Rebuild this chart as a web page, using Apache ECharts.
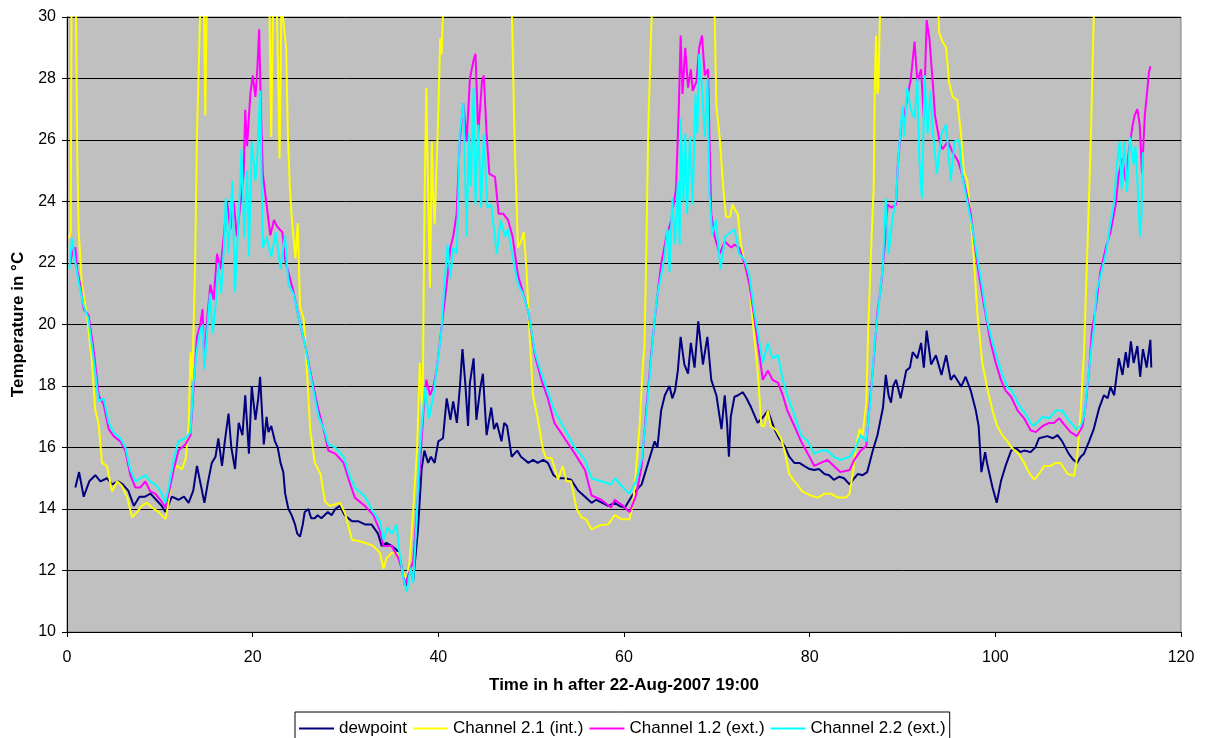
<!DOCTYPE html>
<html lang="en">
<head>
    <meta charset="UTF-8">
    <title>Temperature and dewpoint</title>
    <script src="https://cdn.jsdelivr.net/npm/echarts@6/dist/echarts.min.js"></script>
    <style>
        html, body { margin: 0; padding: 0; background: #fff; }
        #chart-container { width: 1207px; height: 738px; }
    </style>
</head>
<body>
    <div id="chart-container"></div>

    <script>
        // series names, in legend order
        const seriesNames = ['dewpoint', 'Channel 2.1 (int.)', 'Channel 1.2 (ext.)', 'Channel 2.2 (ext.)'];

        // [hours after start, °C]
        const dewpoint = [
            [0.9,14.7],[1.3,15.2],[1.8,14.4],[2.4,14.9],[3.05,15.1],[3.6,14.9],[4.3,15.0],[4.85,14.8],[5.5,14.9],[6.0,14.8],
            [6.6,14.6],[7.2,14.1],[7.8,14.4],[8.4,14.4],[9.0,14.5],[9.6,14.3],[10.2,14.1],[10.6,13.9],[11.3,14.4],[12.0,14.3],
            [12.6,14.4],[13.1,14.2],[13.6,14.6],[14.0,15.4],[14.4,14.8],[14.8,14.2],[15.2,14.9],[15.6,15.5],[16.0,15.7],[16.3,16.3],
            [16.7,15.4],[17.0,16.2],[17.4,17.1],[17.7,16.0],[18.1,15.3],[18.5,16.8],[18.9,16.4],[19.2,17.7],[19.6,15.8],[19.9,18.0],
            [20.3,16.9],[20.6,17.6],[20.8,18.3],[21.2,16.1],[21.5,17.0],[21.7,16.5],[22.0,16.7],[22.4,16.2],[22.7,16.0],[23.0,15.5],
            [23.3,15.2],[23.5,14.5],[23.85,14.0],[24.2,13.8],[24.56,13.5],[24.8,13.2],[25.1,13.1],[25.4,13.5],[25.6,13.9],[26.0,14.0],
            [26.3,13.7],[26.7,13.7],[27.0,13.8],[27.4,13.7],[28.1,13.9],[28.5,13.8],[28.9,14.0],[29.4,14.1],[29.9,13.8],[30.3,13.7],
            [30.7,13.6],[31.4,13.6],[32.1,13.5],[32.8,13.5],[33.5,13.2],[33.9,12.8],[34.4,12.9],[34.97,12.8],[35.4,12.7],[35.7,12.6],
            [36.2,11.9],[36.6,11.5],[36.9,12.1],[37.3,11.7],[37.8,13.3],[38.2,15.3],[38.5,15.9],[38.9,15.5],[39.2,15.7],[39.6,15.5],
            [40.0,16.2],[40.5,16.3],[40.9,17.6],[41.3,16.9],[41.6,17.5],[42.0,16.8],[42.33,18.0],[42.6,19.2],[42.9,18.1],[43.2,16.7],
            [43.4,18.1],[43.8,18.9],[44.1,16.9],[44.5,17.9],[44.8,18.4],[45.2,16.4],[45.7,17.3],[46.0,16.6],[46.3,16.8],[46.8,16.2],
            [47.1,16.8],[47.4,16.7],[47.9,15.7],[48.2,15.8],[48.5,15.9],[48.9,15.7],[49.3,15.6],[49.7,15.5],[50.2,15.6],[50.7,15.5],
            [51.3,15.6],[51.8,15.5],[52.4,15.1],[52.9,15.0],[53.6,15.0],[54.3,14.95],[55.05,14.6],[55.8,14.4],[56.5,14.2],[57.0,14.3],
            [57.4,14.24],[58.3,14.1],[59.0,14.2],[59.5,14.1],[60.1,14.05],[60.8,14.4],[61.3,14.6],[61.9,14.8],[62.6,15.5],[63.3,16.2],
            [63.6,16.0],[64.0,17.2],[64.4,17.7],[64.9,18.0],[65.2,17.6],[65.5,17.85],[65.8,18.5],[66.1,19.6],[66.5,18.7],[66.9,18.4],
            [67.2,19.4],[67.6,18.6],[68.0,20.1],[68.5,18.7],[68.98,19.6],[69.4,18.2],[69.95,17.7],[70.5,16.6],[70.85,17.7],[71.1,16.8],
            [71.3,15.7],[71.5,17.0],[71.9,17.65],[72.3,17.7],[72.8,17.8],[73.2,17.6],[73.7,17.3],[74.4,16.8],[75.0,17.0],[75.5,17.2],
            [76.2,16.6],[76.7,16.3],[77.3,16.05],[77.8,15.7],[78.35,15.5],[78.9,15.5],[79.4,15.4],[80.0,15.3],[80.5,15.27],[81.0,15.3],
            [81.6,15.14],[82.1,15.1],[82.6,14.95],[83.2,15.05],[83.7,15.0],[84.3,14.8],[84.8,15.0],[85.2,15.14],[85.7,15.1],[86.2,15.2],
            [86.8,15.9],[87.3,16.4],[87.9,17.3],[88.2,18.36],[88.5,17.7],[88.76,17.46],[89.0,18.0],[89.3,18.2],[89.8,17.6],[90.4,18.5],
            [90.8,18.6],[91.1,19.1],[91.6,18.9],[92.0,19.4],[92.3,18.6],[92.6,19.8],[93.08,18.7],[93.6,19.0],[94.2,18.36],[94.7,19.0],
            [95.2,18.2],[95.55,18.36],[96.1,18.1],[96.3,17.97],[96.8,18.3],[97.35,17.85],[97.9,17.2],[98.2,16.7],[98.5,15.2],[98.9,15.85],
            [99.1,15.5],[99.7,14.7],[100.15,14.2],[100.6,14.9],[101.1,15.4],[101.7,15.9],[102.2,15.98],[102.7,15.85],[103.1,15.9],[103.8,15.85],
            [104.3,16.0],[104.7,16.3],[105.6,16.37],[106.2,16.3],[106.7,16.4],[107.2,16.2],[107.9,15.8],[108.4,15.6],[108.8,15.5],[109.2,15.7],
            [109.55,15.8],[110.1,16.2],[110.6,16.6],[111.2,17.3],[111.7,17.7],[112.1,17.6],[112.4,17.97],[112.8,17.7],[113.3,18.9],[113.7,18.36],
            [114.05,19.1],[114.3,18.6],[114.6,19.45],[114.9,18.75],[115.3,19.3],[115.6,18.3],[115.9,19.2],[116.3,18.6],[116.7,19.5],[116.8,18.6]
        ];

        // indoor sensor, runs off the top of the scale during the day
        const channel21 = [
            [0.2,22.8],[0.4,23.0],[0.5,31],[0.6,35],[0.85,35],[0.95,31],[1.1,25.6],[1.25,23.1],[1.4,23.05],[1.6,21.3],
            [2.15,20.3],[2.69,18.75],[3.05,17.2],[3.4,16.8],[3.77,15.5],[4.3,15.4],[4.85,14.57],[5.4,14.9],[5.9,14.76],[6.5,14.37],
            [7.0,13.73],[7.54,13.9],[8.08,14.1],[8.6,14.2],[9.15,14.05],[9.87,13.9],[10.6,13.67],[10.88,14.1],[11.3,15.14],[11.85,15.4],
            [12.4,15.3],[12.8,15.66],[13.1,16.7],[13.3,19.1],[13.5,18.2],[13.8,21.96],[14.0,26.2],[14.2,28.4],[14.4,31],[14.6,32],
            [14.75,30.5],[14.9,26.8],[15.05,30.5],[15.3,34],[18,36],[21.6,34],[21.8,30.5],[22.0,26.1],[22.2,30.5],[22.4,32],
            [22.6,30.5],[22.9,25.4],[23.1,30.5],[23.3,29.9],[23.6,29.0],[23.8,26.1],[24.0,24.5],[24.2,23.5],[24.6,22.16],[24.85,23.3],
            [25.1,20.6],[25.5,20.16],[25.8,18.75],[26.2,16.56],[26.7,15.5],[27.3,15.14],[27.8,14.24],[28.3,14.1],[29.4,14.2],[29.95,13.86],
            [30.7,13.0],[31.4,12.96],[32.1,12.9],[33.0,12.8],[33.7,12.57],[34.1,12.06],[34.4,12.4],[34.97,12.57],[35.7,12.57],[36.05,12.06],
            [36.6,11.67],[36.9,12.3],[37.3,13.99],[37.7,15.9],[38.0,18.75],[38.3,17.0],[38.5,23.6],[38.7,27.7],[38.9,24.4],[39.1,21.2],
            [39.3,25.95],[39.45,24.1],[39.6,23.25],[39.99,26.8],[40.2,29.3],[40.35,28.8],[40.6,31],[41,35],[44,37],[47.7,33],
            [47.9,30.5],[48.2,26.2],[48.58,22.5],[48.9,22.7],[49.2,23.0],[49.5,21.8],[49.8,19.8],[50.2,17.7],[50.7,16.95],[51.3,15.9],
            [51.6,15.66],[52.2,15.66],[52.9,14.95],[53.4,15.4],[53.8,14.9],[54.3,14.9],[54.9,14.0],[55.4,13.73],[55.9,13.67],[56.5,13.34],
            [57.4,13.47],[58.3,13.5],[59.0,13.8],[59.7,13.67],[60.6,13.67],[61.0,14.24],[61.3,15.27],[61.7,16.8],[62.05,18.75],[62.2,19.26],
            [62.4,22.3],[62.6,26.2],[62.9,29.3],[63.1,31],[63.5,34],[66,37],[69.5,33],[69.75,30.3],[69.95,27.1],[70.3,26.1],
            [70.7,24.4],[71.0,23.5],[71.4,23.5],[71.7,23.9],[72.0,23.7],[72.25,23.6],[72.6,22.6],[73.1,21.8],[73.5,21.3],[73.9,20.0],
            [74.4,18.5],[74.8,16.7],[75.1,16.7],[75.5,17.2],[75.8,16.7],[76.4,16.56],[76.9,16.3],[77.3,15.9],[77.8,15.14],[78.35,14.9],
            [78.9,14.7],[79.2,14.57],[80.1,14.44],[80.9,14.37],[81.6,14.5],[82.3,14.5],[83.0,14.37],[83.9,14.37],[84.3,14.5],[84.7,15.27],
            [85.0,16.05],[85.4,16.6],[85.7,16.4],[86.1,17.46],[86.3,19.8],[86.6,22.3],[86.9,24.5],[87.0,27.5],[87.15,29.4],[87.3,27.5],
            [87.4,27.7],[87.6,30.5],[87.8,33],[90,37],[93.6,33],[93.8,30.5],[93.95,29.5],[94.3,29.2],[94.7,29.0],[95.0,27.9],
            [95.4,27.4],[95.9,27.3],[96.3,26.2],[96.6,25.0],[96.99,24.66],[97.35,23.4],[97.7,22.1],[98.05,20.4],[98.6,18.75],[99.1,17.97],
            [99.7,17.2],[100.2,16.7],[100.75,16.4],[101.3,16.2],[101.8,15.98],[102.5,15.8],[103.1,15.5],[103.6,15.2],[104.17,14.95],[104.7,15.14],
            [105.25,15.4],[105.96,15.4],[106.5,15.5],[107.0,15.5],[107.8,15.14],[108.5,15.08],[108.8,15.66],[109.2,17.2],[109.55,19.1],[109.9,22.3],
            [110.3,26.2],[110.6,30.0],[111.0,33]
        ];

        const channel12 = [
            [0.36,22.0],[0.6,22.4],[0.9,22.5],[1.08,21.8],[1.43,21.3],[1.8,20.5],[2.33,20.3],[2.9,19.1],[3.41,17.7],[3.95,17.4],
            [4.49,16.6],[5.03,16.37],[5.75,16.2],[6.28,15.9],[6.82,15.1],[7.36,14.7],[7.9,14.7],[8.44,14.9],[8.97,14.57],[9.5,14.5],
            [10.05,14.3],[10.6,14.05],[10.95,14.5],[11.49,15.27],[12.0,15.9],[12.75,16.1],[13.3,16.4],[13.64,17.97],[14.0,19.6],[14.36,20.0],
            [14.6,20.5],[14.8,18.7],[15.08,20.1],[15.44,21.3],[15.8,20.8],[16.16,22.3],[16.52,21.8],[16.88,22.86],[17.24,24.0],[17.6,23.1],
            [17.95,24.0],[18.3,22.86],[18.67,23.9],[19.03,24.9],[19.2,26.98],[19.4,25.8],[19.75,27.5],[20.0,28.1],[20.3,27.4],[20.5,28.3],
            [20.7,29.6],[20.9,26.8],[21.1,24.9],[21.5,23.9],[21.9,22.9],[22.3,23.4],[22.6,23.2],[23.2,23.0],[23.5,22.1],[23.85,21.7],
            [24.4,21.06],[24.9,20.3],[25.6,19.4],[26.4,18.2],[27.1,17.2],[27.8,16.4],[28.15,15.9],[28.9,15.8],[29.8,15.5],[30.3,15.0],
            [31.0,14.37],[32.1,14.1],[33.0,13.8],[33.7,13.3],[34.1,12.8],[34.97,12.8],[35.7,12.4],[36.05,12.06],[36.4,11.5],[36.8,11.9],
            [37.3,12.3],[37.6,13.6],[38.0,15.27],[38.4,17.2],[38.7,18.2],[39.1,17.7],[39.46,17.97],[39.8,18.5],[40.2,19.5],[40.5,20.3],
            [40.9,21.3],[41.3,22.5],[41.6,22.86],[41.97,23.6],[42.3,25.95],[42.7,27.2],[43.05,25.95],[43.4,28.0],[43.8,28.6],[44.0,28.8],
            [44.3,26.2],[44.7,27.9],[44.9,28.1],[45.2,26.2],[45.5,24.9],[46.1,24.8],[46.5,23.6],[47.0,23.6],[47.5,23.4],[48.0,22.86],
            [48.58,21.6],[49.1,21.06],[49.7,20.4],[50.4,19.0],[51.1,18.2],[51.8,17.6],[52.5,16.8],[53.6,16.3],[54.7,15.8],[55.8,15.27],
            [56.5,14.44],[57.55,14.3],[58.6,14.05],[59.0,14.3],[59.9,14.1],[60.6,13.9],[61.3,14.44],[61.9,15.4],[62.4,17.2],[62.95,19.1],
            [63.5,20.7],[64.0,21.96],[64.56,22.86],[65.1,23.4],[65.6,24.4],[65.9,27.0],[66.1,29.4],[66.3,27.5],[66.6,29.0],[66.9,27.7],
            [67.2,28.3],[67.4,27.6],[67.8,27.9],[68.1,29.0],[68.4,29.4],[68.7,28.1],[69.05,28.3],[69.2,26.2],[69.4,23.6],[69.76,22.86],
            [70.3,22.3],[70.85,22.7],[71.56,22.5],[71.9,22.6],[72.4,22.5],[73.0,21.96],[73.5,21.3],[74.0,20.3],[74.6,19.0],[74.95,18.2],
            [75.5,18.5],[76.0,18.2],[76.6,18.1],[77.1,17.7],[77.6,17.2],[78.35,16.7],[79.07,16.2],[79.8,15.8],[80.5,15.4],[81.2,15.5],
            [81.9,15.6],[82.6,15.4],[83.3,15.2],[84.3,15.27],[84.8,15.6],[85.5,15.9],[86.1,16.05],[86.4,17.2],[86.8,18.5],[87.3,20.4],
            [87.7,21.3],[88.1,22.6],[88.4,23.9],[88.8,23.8],[89.3,23.9],[89.5,25.2],[89.9,26.6],[90.2,26.8],[90.6,27.5],[90.9,28.0],
            [91.3,29.2],[91.6,27.9],[92.0,28.3],[92.3,26.7],[92.6,29.9],[92.9,29.3],[93.3,27.7],[93.5,26.8],[94.0,25.95],[94.3,25.7],
            [94.9,25.95],[95.4,25.6],[96.0,25.3],[96.3,25.0],[96.8,24.4],[97.35,23.6],[97.9,22.3],[98.4,21.3],[98.97,20.3],[99.5,19.4],
            [100.05,18.75],[100.6,18.2],[101.1,17.85],[101.7,17.65],[102.4,17.2],[103.1,16.95],[103.8,16.56],[104.35,16.5],[105.1,16.7],[105.8,16.8],
            [106.3,16.8],[106.9,16.95],[107.4,16.75],[108.1,16.5],[108.8,16.37],[109.4,16.7],[109.7,17.3],[110.1,18.5],[110.4,19.8],[110.8,20.5],
            [111.3,21.7],[111.9,22.5],[112.4,23.0],[112.97,23.9],[113.3,24.9],[113.7,25.4],[114.05,24.66],[114.4,25.7],[114.8,26.5],[115.0,26.8],
            [115.3,27.0],[115.55,26.5],[115.8,24.9],[116.1,26.8],[116.3,27.4],[116.55,28.2],[116.7,28.4]
        ];

        const channel22 = [
            [0.25,21.8],[0.54,22.8],[0.9,22.0],[1.3,21.3],[1.8,20.6],[2.3,20.2],[2.9,18.8],[3.4,17.5],[3.95,17.6],[4.5,16.8],
            [5.0,16.5],[5.75,16.3],[6.3,16.0],[6.8,15.3],[7.36,14.9],[7.9,15.0],[8.44,15.1],[8.97,14.9],[9.5,14.8],[10.05,14.6],
            [10.6,14.2],[10.95,14.7],[11.5,15.6],[12.0,16.2],[12.75,16.3],[13.3,16.5],[13.6,18.0],[14.0,19.2],[14.36,19.8],[14.6,20.0],
            [14.8,18.55],[15.1,19.8],[15.4,21.0],[15.7,19.7],[16.0,20.6],[16.3,22.0],[16.6,21.0],[16.9,22.5],[17.1,24.1],[17.4,22.3],
            [17.8,24.66],[18.1,21.06],[18.5,23.5],[18.8,25.7],[19.1,22.8],[19.4,25.0],[19.6,22.2],[19.9,25.95],[20.3,24.66],[20.5,25.5],
            [20.8,27.6],[21.1,22.5],[21.5,22.86],[22.0,22.2],[22.5,23.0],[23.0,21.8],[23.48,22.9],[23.85,21.3],[24.4,21.0],[24.9,20.3],
            [25.6,19.4],[26.4,18.1],[27.1,17.0],[27.8,16.5],[28.15,16.1],[28.9,16.0],[29.8,15.7],[30.3,15.2],[31.0,14.7],[32.1,14.4],
            [33.0,13.9],[33.7,13.6],[34.1,13.0],[34.5,13.4],[35.0,13.2],[35.5,13.5],[35.8,12.6],[36.2,11.8],[36.6,11.3],[37.0,12.1],
            [37.3,11.6],[37.6,13.3],[38.0,15.9],[38.56,17.97],[39.0,16.95],[39.46,17.7],[39.8,18.5],[40.3,19.7],[40.7,21.5],[41.0,22.6],
            [41.3,21.5],[41.6,22.5],[42.0,22.3],[42.3,26.2],[42.7,27.2],[43.05,22.86],[43.3,26.2],[43.5,24.5],[43.8,27.7],[44.0,23.9],
            [44.3,26.5],[44.6,23.8],[44.9,26.2],[45.3,23.8],[45.7,23.9],[46.3,22.3],[46.7,23.4],[47.2,22.86],[47.5,23.1],[48.0,22.2],
            [48.58,21.3],[49.1,21.0],[49.7,20.4],[50.4,19.1],[51.1,18.4],[51.8,17.8],[52.5,17.2],[53.6,16.6],[54.7,16.0],[55.8,15.6],
            [56.5,15.0],[57.55,14.9],[58.6,14.8],[59.0,15.0],[59.9,14.7],[60.6,14.5],[61.3,14.9],[61.9,15.6],[62.4,17.0],[62.95,19.0],
            [63.5,20.8],[64.0,21.6],[64.3,22.1],[64.7,23.1],[64.9,21.7],[65.2,24.1],[65.5,22.6],[65.8,24.66],[66.0,22.6],[66.1,26.7],
            [66.4,24.0],[66.6,26.2],[66.8,23.6],[67.1,26.1],[67.4,23.9],[67.7,27.5],[67.9,26.2],[68.1,28.8],[68.4,27.7],[68.7,26.1],
            [69.0,28.0],[69.2,24.3],[69.5,22.9],[69.9,23.4],[70.4,21.8],[70.9,22.86],[71.5,23.0],[71.9,23.1],[72.4,22.3],[73.0,22.1],
            [73.5,21.6],[74.0,20.5],[74.6,19.4],[74.95,18.75],[75.5,19.4],[76.0,18.9],[76.6,19.0],[77.1,18.2],[77.6,17.7],[78.35,17.07],
            [79.07,16.4],[79.8,16.2],[80.5,15.8],[81.2,15.9],[81.9,15.9],[82.6,15.7],[83.3,15.6],[84.3,15.7],[84.8,15.9],[85.5,16.4],
            [86.1,16.2],[86.6,17.7],[87.0,19.4],[87.5,20.8],[87.9,21.96],[88.2,24.1],[88.5,22.3],[88.9,23.4],[89.3,24.1],[89.6,25.6],
            [90.0,27.1],[90.2,26.1],[90.5,27.7],[90.9,27.0],[91.3,26.7],[91.6,28.0],[91.8,25.4],[92.1,24.1],[92.4,28.1],[92.7,26.2],
            [93.0,27.6],[93.3,26.2],[93.7,24.9],[94.2,26.2],[94.7,26.5],[95.2,24.66],[95.6,25.95],[96.1,26.0],[96.4,24.9],[96.9,24.1],
            [97.5,23.2],[98.05,22.2],[98.6,21.2],[99.1,20.16],[99.7,19.4],[100.2,18.9],[100.75,18.36],[101.3,17.97],[101.8,17.85],[102.5,17.4],
            [103.3,17.07],[104.0,16.7],[104.5,16.8],[105.1,17.0],[105.8,16.95],[106.5,17.2],[107.2,17.2],[107.9,16.9],[108.7,16.6],[109.2,16.7],
            [109.6,17.07],[109.9,17.97],[110.3,19.1],[110.6,19.8],[110.9,21.06],[111.5,21.8],[111.9,22.3],[112.3,23.1],[112.8,24.0],[113.1,25.2],
            [113.4,25.95],[113.6,24.4],[113.9,25.95],[114.2,24.3],[114.5,26.1],[114.9,25.2],[115.1,25.8],[115.3,24.66],[115.6,22.86],[115.75,23.6],
            [115.9,25.6]
        ];

        const seriesData = [dewpoint, channel21, channel12, channel22];
        const seriesColors = ['#000080', '#FFFF00', '#FF00FF', '#00FFFF'];

        const chartDom = document.getElementById('chart-container');
        const myChart = echarts.init(chartDom, null, { renderer: 'canvas' });

        const font = 'Liberation Sans, Arial, sans-serif';

        const option = {
            animation: false,
            backgroundColor: '#ffffff',
            textStyle: { fontFamily: font },
            grid: {
                left: 67, right: 26, top: 17, bottom: 106,
                show: true,
                backgroundColor: '#C0C0C0',
                borderColor: '#808080',
                borderWidth: 1
            },
            legend: {
                data: seriesNames,
                left: 295,
                top: 712,
                padding: [8, 4, 12, 4],
                itemGap: 6,
                itemWidth: 35,
                itemHeight: 2,
                icon: 'rect',
                borderColor: '#000',
                borderWidth: 1,
                backgroundColor: '#fff',
                textStyle: { fontSize: 17, color: '#000', fontFamily: font }
            },
            xAxis: {
                type: 'value',
                min: 0, max: 120, interval: 20,
                name: 'Time in h after 22-Aug-2007 19:00',
                nameLocation: 'middle',
                nameGap: 45,
                nameTextStyle: { fontSize: 17, fontWeight: 'bold', color: '#000' },
                axisLine: { show: true, lineStyle: { color: '#000', width: 1 } },
                axisTick: { show: true, inside: false, length: 5, lineStyle: { color: '#000' } },
                axisLabel: { fontSize: 16, color: '#000', margin: 18 },
                splitLine: { show: false }
            },
            yAxis: {
                type: 'value',
                min: 10, max: 30, interval: 2,
                name: 'Temperature in °C',
                nameLocation: 'middle',
                nameGap: 40,
                nameTextStyle: { fontSize: 17, fontWeight: 'bold', color: '#000' },
                axisLine: { show: true, lineStyle: { color: '#000', width: 1 } },
                axisTick: { show: true, inside: false, length: 5, lineStyle: { color: '#000' } },
                axisLabel: { fontSize: 16, color: '#000', margin: 11 },
                splitLine: { show: true, lineStyle: { color: '#000', width: 1 } }
            },
            series: seriesNames.map((name, i) => ({
                name: name,
                type: 'line',
                data: seriesData[i],
                showSymbol: false,
                clip: true,
                color: seriesColors[i],
                lineStyle: { width: 2, color: seriesColors[i] }
            }))
        };

        myChart.setOption(option);
    </script>
</body>
</html>
